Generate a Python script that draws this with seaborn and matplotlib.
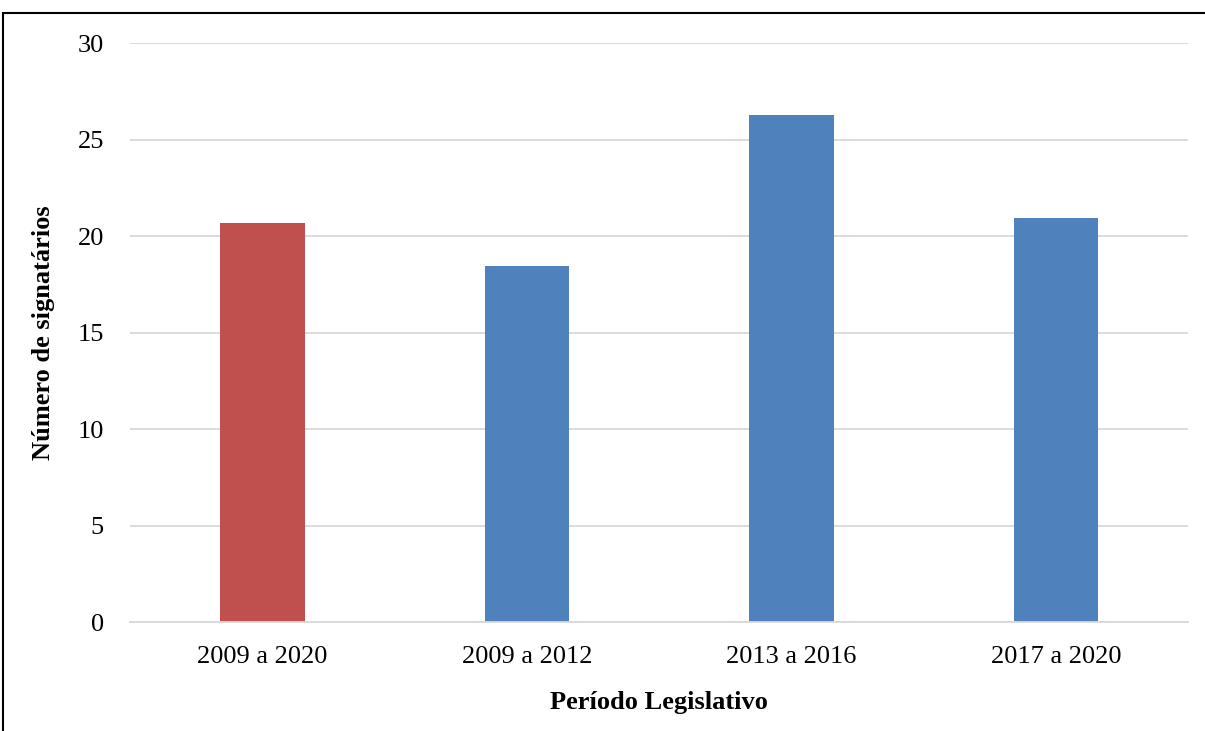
import matplotlib.pyplot as plt
import seaborn as sns
import pandas as pd
from matplotlib.patches import Rectangle

# valores
periodos = ["2009 a 2020", "2009 a 2012", "2013 a 2016", "2017 a 2020"]
signatarios = [20.7, 18.45, 26.3, 20.95]
cores = ["#C0504D", "#4F81BD", "#4F81BD", "#4F81BD"]
yticks = [0, 5, 10, 15, 20, 25, 30]

df = pd.DataFrame({"periodo": periodos, "valor": signatarios})

sns.set_theme(style="white")
plt.rcParams["font.family"] = ["Liberation Serif", "DejaVu Serif"]
plt.rcParams["text.color"] = "black"

fig = plt.figure(figsize=(12.05, 7.31), dpi=100)
ax = fig.add_axes([0.108, 0.149, 0.878, 0.792])

sns.barplot(data=df, x="periodo", y="valor", hue="periodo", palette=cores,
            dodge=False, legend=False, width=0.32, saturation=1,
            edgecolor="none", ax=ax)

ax.set_ylim(0, 30)
ax.set_xlim(-0.5, 3.5)
ax.set_yticks(yticks)
ax.yaxis.grid(True, color="#d9d9d9", linewidth=1.3)
ax.set_axisbelow(True)
for s in ["top", "right", "left"]:
    ax.spines[s].set_visible(False)
ax.spines["bottom"].set_color("#d9d9d9")
ax.spines["bottom"].set_linewidth(1.3)
ax.tick_params(axis="both", length=0, labelsize=19, colors="black")
ax.tick_params(axis="y", pad=19)
ax.tick_params(axis="x", pad=17)

ax.set_xlabel("Período Legislativo", fontsize=19, fontweight="bold",
              labelpad=17, color="black")
ax.set_ylabel("Número de signatários", fontsize=19, fontweight="bold",
              labelpad=16, color="black")

# moldura externa
fig.patches.append(Rectangle((0.0025, -0.05), 1.05, 1 - 13 / 731 + 0.05,
                             transform=fig.transFigure, fill=False,
                             edgecolor="black", linewidth=1.5, clip_on=False))

fig.savefig("out.png", dpi=100)
